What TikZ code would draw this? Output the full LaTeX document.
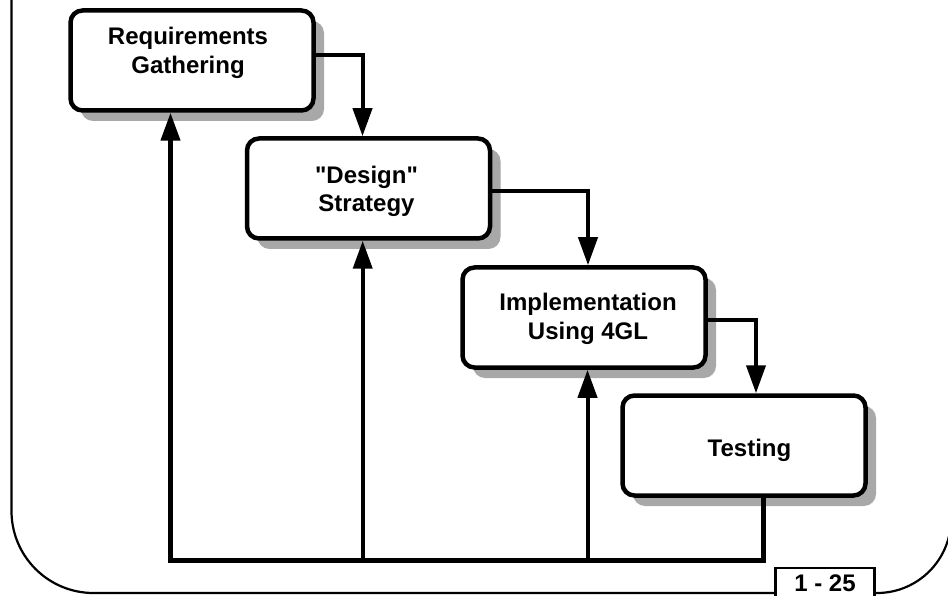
\documentclass[tikz,border=0pt]{standalone}
\usepackage{fontspec}
\newfontfamily\lsans{Liberation Sans}
\usetikzlibrary{arrows.meta,shadows}
\definecolor{shd}{HTML}{A8A8A8}
\begin{document}
\begin{tikzpicture}[x=1pt,y=-1pt,
  stagebox/.style={draw=black, line width=4.5pt, rounded corners=12pt,
    minimum width=243pt, minimum height=100pt, fill=white, inner sep=0pt,
    general shadow={fill=shd, shadow xshift=10.5pt, shadow yshift=-10.5pt}},
  stagetext/.style={align=center, inner sep=0pt,
    font=\lsans\fontsize{24}{28.5}\selectfont\bfseries},
  conn/.style={line width=4pt, -{Triangle[length=28pt,width=19pt]}},
  frame/.style={line width=2.2pt},
  pagebox/.style={draw=black, fill=white, line width=2.4pt, inner sep=0pt, outer sep=0pt,
    minimum width=99pt, text height=23.7pt, text depth=15pt, anchor=north,
    font=\lsans\fontsize{24}{28.5}\selectfont\bfseries}]
\useasboundingbox (0,0) rectangle (948,596);

% outer frame
\draw[frame] (11.5,-5) -- (11.5,511) arc[start angle=180,end angle=90,radius=82]
  -- (877,593) arc[start angle=90,end angle=0,radius=74] -- (951,-5);
\node[pagebox] (pg) at (825,568) {1 - 25};

% stage boxes
\node[stagebox] (b1) at (192,60.5) {};
\node[stagebox] (b2) at (368.5,188.5) {};
\node[stagebox] (b3) at (584,317.5) {};
\node[stagebox] (b4) at (744,445.5) {};

\node[stagetext] (t1) at (188,53) {Requirements\\Gathering};
\node[stagetext] (t2) at (366.5,191.3) {"Design"\\Strategy};
\node[stagetext] (t3) at (588,319) {Implementation\\Using 4GL};
\node[stagetext] (t4) at (749.5,450) {Testing};

% helper coordinates
\coordinate (y1) at (0,54.7);
\coordinate (y2) at (0,191);
\coordinate (y3) at (0,320);
\coordinate (x1) at (362.5,0);
\coordinate (x2) at (588,0);
\coordinate (x3) at (756,0);
\coordinate (f1) at (170.5,560.5);
\coordinate (f2) at (362.7,560.5);
\coordinate (f3) at (587.5,560.5);
\coordinate (f4) at (763.5,560.5);

% forward connectors
\draw[conn] (b1.east |- y1) -| (b2.north -| x1);
\draw[conn] (b2.east |- y2) -| (b3.north -| x2);
\draw[conn] (b3.east |- y3) -| (b4.north -| x3);

% feedback connectors
\draw[conn, line width=4.5pt] (b4.south -| f4) -- (f4) -- (f1) -- (b1.south -| f1);
\draw[conn] (f2) -- (b2.south -| f2);
\draw[conn] (f3) -- (b3.south -| f3);
\end{tikzpicture}
\end{document}
